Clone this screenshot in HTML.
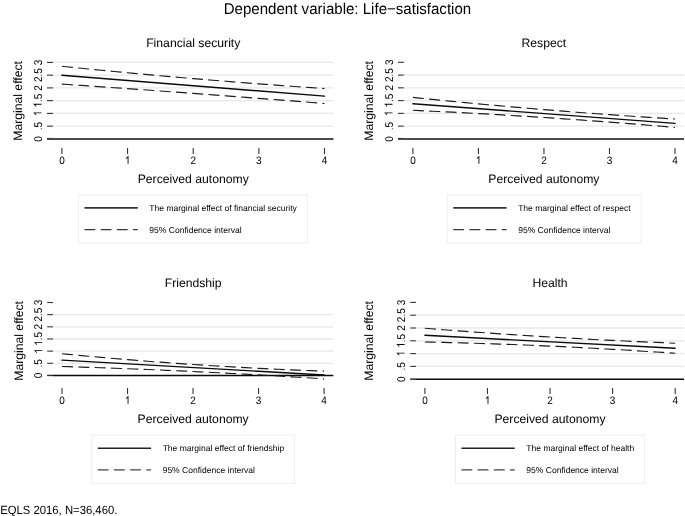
<!DOCTYPE html>
<html><head><meta charset="utf-8"><style>html,body{margin:0;padding:0;background:#fff;width:685px;height:516px;overflow:hidden;position:relative}</style></head>
<body>
<svg width="685" height="516" viewBox="0 0 685 516" style="position:absolute;left:0;top:0;will-change:transform;text-rendering:geometricPrecision" font-family='"Liberation Sans", sans-serif'>
<rect width="685" height="516" fill="#fff"/>
<text transform="translate(347.45,14) scale(0.966,1)" font-size="15.6" text-anchor="middle" fill="#000">Dependent variable: Life−satisfaction</text>
<text x="193.25" y="47" font-size="12.2" text-anchor="middle" fill="#000">Financial security</text>
<line x1="53" x2="333.5" y1="126.15" y2="126.15" stroke="#e8e8e8" stroke-width="1.3"/>
<line x1="53" x2="333.5" y1="113.40" y2="113.40" stroke="#e8e8e8" stroke-width="1.3"/>
<line x1="53" x2="333.5" y1="100.65" y2="100.65" stroke="#e8e8e8" stroke-width="1.3"/>
<line x1="53" x2="333.5" y1="87.90" y2="87.90" stroke="#e8e8e8" stroke-width="1.3"/>
<line x1="53" x2="333.5" y1="75.15" y2="75.15" stroke="#e8e8e8" stroke-width="1.3"/>
<line x1="53" x2="333.5" y1="62.40" y2="62.40" stroke="#e8e8e8" stroke-width="1.3"/>
<line x1="47" x2="53" y1="138.90" y2="138.90" stroke="#555" stroke-width="2.0"/>
<line x1="53" x2="333.5" y1="138.90" y2="138.90" stroke="#4c4c4c" stroke-width="2.0"/>
<line x1="47" x2="53" y1="138.90" y2="138.90" stroke="#333" stroke-width="1.1"/>
<g transform="translate(41.5,138.90) rotate(-90) scale(1,1.12)" fill="#000"><text x="-2.78" y="0" font-size="10">0</text></g>
<line x1="47" x2="53" y1="126.15" y2="126.15" stroke="#333" stroke-width="1.1"/>
<g transform="translate(41.5,126.15) rotate(-90) scale(1,1.12)" fill="#000"><text x="-4.17" y="0" font-size="10">.5</text></g>
<line x1="47" x2="53" y1="113.40" y2="113.40" stroke="#333" stroke-width="1.1"/>
<g transform="translate(41.5,113.40) rotate(-90) scale(1,1.12)" fill="#000"><path d="M373,0 L285,0 L285,560 Q200,485 108,454 L108,539 Q190,572 245,622 Q300,672 318,716 L373,716 Z" transform="translate(-2.78,0) scale(0.01000,-0.01000)"/></g>
<line x1="47" x2="53" y1="100.65" y2="100.65" stroke="#333" stroke-width="1.1"/>
<g transform="translate(41.5,100.65) rotate(-90) scale(1,1.12)" fill="#000"><path d="M373,0 L285,0 L285,560 Q200,485 108,454 L108,539 Q190,572 245,622 Q300,672 318,716 L373,716 Z" transform="translate(-6.95,0) scale(0.01000,-0.01000)"/><text x="-1.39" y="0" font-size="10">.5</text></g>
<line x1="47" x2="53" y1="87.90" y2="87.90" stroke="#333" stroke-width="1.1"/>
<g transform="translate(41.5,87.90) rotate(-90) scale(1,1.12)" fill="#000"><text x="-2.78" y="0" font-size="10">2</text></g>
<line x1="47" x2="53" y1="75.15" y2="75.15" stroke="#333" stroke-width="1.1"/>
<g transform="translate(41.5,75.15) rotate(-90) scale(1,1.12)" fill="#000"><text x="-6.95" y="0" font-size="10">2.5</text></g>
<line x1="47" x2="53" y1="62.40" y2="62.40" stroke="#333" stroke-width="1.1"/>
<g transform="translate(41.5,62.40) rotate(-90) scale(1,1.12)" fill="#000"><text x="-2.78" y="0" font-size="10">3</text></g>
<text transform="translate(22.0,100.9) rotate(-90)" font-size="12.2" text-anchor="middle" fill="#000">Marginal effect</text>
<line x1="61.90" x2="61.90" y1="148" y2="154" stroke="#333" stroke-width="1.1"/>
<g transform="translate(61.90,163.7) scale(1,1.08)" fill="#000"><text x="-2.78" y="0" font-size="10">0</text></g>
<line x1="127.55" x2="127.55" y1="148" y2="154" stroke="#333" stroke-width="1.1"/>
<g transform="translate(127.55,163.7) scale(1,1.08)" fill="#000"><path d="M373,0 L285,0 L285,560 Q200,485 108,454 L108,539 Q190,572 245,622 Q300,672 318,716 L373,716 Z" transform="translate(-2.78,0) scale(0.01000,-0.01000)"/></g>
<line x1="193.20" x2="193.20" y1="148" y2="154" stroke="#333" stroke-width="1.1"/>
<g transform="translate(193.20,163.7) scale(1,1.08)" fill="#000"><text x="-2.78" y="0" font-size="10">2</text></g>
<line x1="258.85" x2="258.85" y1="148" y2="154" stroke="#333" stroke-width="1.1"/>
<g transform="translate(258.85,163.7) scale(1,1.08)" fill="#000"><text x="-2.78" y="0" font-size="10">3</text></g>
<line x1="324.50" x2="324.50" y1="148" y2="154" stroke="#333" stroke-width="1.1"/>
<g transform="translate(324.50,163.7) scale(1,1.08)" fill="#000"><text x="-2.78" y="0" font-size="10">4</text></g>
<text x="193.25" y="183.2" font-size="12.2" text-anchor="middle" fill="#000">Perceived autonomy</text>
<line x1="61.90" x2="324.50" y1="75.3" y2="96.1" stroke="#0a0a0a" stroke-width="1.4" stroke-linecap="round"/>
<polyline points="61.90,66.30 68.47,66.97 75.03,67.64 81.59,68.30 88.16,68.95 94.72,69.60 101.29,70.24 107.85,70.88 114.42,71.51 120.99,72.13 127.55,72.75 134.12,73.36 140.68,73.97 147.25,74.57 153.81,75.16 160.38,75.75 166.94,76.33 173.50,76.91 180.07,77.48 186.63,78.04 193.20,78.60 199.77,79.15 206.33,79.70 212.90,80.24 219.46,80.77 226.03,81.30 232.59,81.82 239.16,82.34 245.72,82.85 252.29,83.35 258.85,83.85 265.42,84.34 271.98,84.83 278.55,85.31 285.11,85.78 291.68,86.25 298.24,86.71 304.81,87.17 311.37,87.62 317.94,88.06 324.50,88.50" fill="none" stroke="#1a1a1a" stroke-width="1.15" stroke-dasharray="11 5.33"/>
<polyline points="61.90,84.10 68.47,84.55 75.03,84.99 81.59,85.44 88.16,85.90 94.72,86.35 101.29,86.81 107.85,87.26 114.42,87.72 120.99,88.19 127.55,88.65 134.12,89.12 140.68,89.58 147.25,90.05 153.81,90.53 160.38,91.00 166.94,91.48 173.50,91.95 180.07,92.43 186.63,92.92 193.20,93.40 199.77,93.89 206.33,94.37 212.90,94.86 219.46,95.36 226.03,95.85 232.59,96.35 239.16,96.84 245.72,97.34 252.29,97.85 258.85,98.35 265.42,98.86 271.98,99.36 278.55,99.87 285.11,100.39 291.68,100.90 298.24,101.42 304.81,101.93 311.37,102.45 317.94,102.98 324.50,103.50" fill="none" stroke="#1a1a1a" stroke-width="1.15" stroke-dasharray="11 5.33"/>
<rect x="78.47" y="194.75" width="228.97" height="48.2" fill="#fff" stroke="#efefef" stroke-width="1"/>
<line x1="84.47" x2="137.77" y1="207.85" y2="207.85" stroke="#333" stroke-width="1.9"/>
<line x1="84.47" x2="137.77" y1="229.7" y2="229.7" stroke="#383838" stroke-width="1.3" stroke-dasharray="10.8 5.4"/>
<text x="149.37" y="211" font-size="8.53" fill="#000">The marginal effect of financial security</text>
<text x="149.37" y="232.6" font-size="8.53" fill="#000">95% Confidence interval</text>
<text x="543.90" y="47" font-size="12.2" text-anchor="middle" fill="#000">Respect</text>
<line x1="403.8" x2="684" y1="126.13" y2="126.13" stroke="#e8e8e8" stroke-width="1.3"/>
<line x1="403.8" x2="684" y1="113.37" y2="113.37" stroke="#e8e8e8" stroke-width="1.3"/>
<line x1="403.8" x2="684" y1="100.60" y2="100.60" stroke="#e8e8e8" stroke-width="1.3"/>
<line x1="403.8" x2="684" y1="87.83" y2="87.83" stroke="#e8e8e8" stroke-width="1.3"/>
<line x1="403.8" x2="684" y1="75.07" y2="75.07" stroke="#e8e8e8" stroke-width="1.3"/>
<line x1="398" x2="403.8" y1="138.90" y2="138.90" stroke="#555" stroke-width="2.0"/>
<line x1="403.8" x2="684" y1="138.90" y2="138.90" stroke="#4c4c4c" stroke-width="2.0"/>
<line x1="398" x2="403.8" y1="138.90" y2="138.90" stroke="#333" stroke-width="1.1"/>
<g transform="translate(392.5,138.90) rotate(-90) scale(1,1.12)" fill="#000"><text x="-2.78" y="0" font-size="10">0</text></g>
<line x1="398" x2="403.8" y1="126.13" y2="126.13" stroke="#333" stroke-width="1.1"/>
<g transform="translate(392.5,126.13) rotate(-90) scale(1,1.12)" fill="#000"><text x="-4.17" y="0" font-size="10">.5</text></g>
<line x1="398" x2="403.8" y1="113.37" y2="113.37" stroke="#333" stroke-width="1.1"/>
<g transform="translate(392.5,113.37) rotate(-90) scale(1,1.12)" fill="#000"><path d="M373,0 L285,0 L285,560 Q200,485 108,454 L108,539 Q190,572 245,622 Q300,672 318,716 L373,716 Z" transform="translate(-2.78,0) scale(0.01000,-0.01000)"/></g>
<line x1="398" x2="403.8" y1="100.60" y2="100.60" stroke="#333" stroke-width="1.1"/>
<g transform="translate(392.5,100.60) rotate(-90) scale(1,1.12)" fill="#000"><path d="M373,0 L285,0 L285,560 Q200,485 108,454 L108,539 Q190,572 245,622 Q300,672 318,716 L373,716 Z" transform="translate(-6.95,0) scale(0.01000,-0.01000)"/><text x="-1.39" y="0" font-size="10">.5</text></g>
<line x1="398" x2="403.8" y1="87.83" y2="87.83" stroke="#333" stroke-width="1.1"/>
<g transform="translate(392.5,87.83) rotate(-90) scale(1,1.12)" fill="#000"><text x="-2.78" y="0" font-size="10">2</text></g>
<line x1="398" x2="403.8" y1="75.07" y2="75.07" stroke="#333" stroke-width="1.1"/>
<g transform="translate(392.5,75.07) rotate(-90) scale(1,1.12)" fill="#000"><text x="-6.95" y="0" font-size="10">2.5</text></g>
<line x1="398" x2="403.8" y1="62.30" y2="62.30" stroke="#333" stroke-width="1.1"/>
<g transform="translate(392.5,62.30) rotate(-90) scale(1,1.12)" fill="#000"><text x="-2.78" y="0" font-size="10">3</text></g>
<text transform="translate(373.3,100.9) rotate(-90)" font-size="12.2" text-anchor="middle" fill="#000">Marginal effect</text>
<line x1="412.90" x2="412.90" y1="148" y2="154" stroke="#333" stroke-width="1.1"/>
<g transform="translate(412.90,163.7) scale(1,1.08)" fill="#000"><text x="-2.78" y="0" font-size="10">0</text></g>
<line x1="478.42" x2="478.42" y1="148" y2="154" stroke="#333" stroke-width="1.1"/>
<g transform="translate(478.42,163.7) scale(1,1.08)" fill="#000"><path d="M373,0 L285,0 L285,560 Q200,485 108,454 L108,539 Q190,572 245,622 Q300,672 318,716 L373,716 Z" transform="translate(-2.78,0) scale(0.01000,-0.01000)"/></g>
<line x1="543.95" x2="543.95" y1="148" y2="154" stroke="#333" stroke-width="1.1"/>
<g transform="translate(543.95,163.7) scale(1,1.08)" fill="#000"><text x="-2.78" y="0" font-size="10">2</text></g>
<line x1="609.48" x2="609.48" y1="148" y2="154" stroke="#333" stroke-width="1.1"/>
<g transform="translate(609.48,163.7) scale(1,1.08)" fill="#000"><text x="-2.78" y="0" font-size="10">3</text></g>
<line x1="675.00" x2="675.00" y1="148" y2="154" stroke="#333" stroke-width="1.1"/>
<g transform="translate(675.00,163.7) scale(1,1.08)" fill="#000"><text x="-2.78" y="0" font-size="10">4</text></g>
<text x="543.90" y="183.2" font-size="12.2" text-anchor="middle" fill="#000">Perceived autonomy</text>
<line x1="412.90" x2="675.00" y1="103.8" y2="123.4" stroke="#0a0a0a" stroke-width="1.4" stroke-linecap="round"/>
<polyline points="412.90,97.40 419.45,98.08 426.00,98.75 432.56,99.41 439.11,100.06 445.66,100.71 452.21,101.35 458.77,101.99 465.32,102.62 471.87,103.24 478.42,103.85 484.98,104.46 491.53,105.06 498.08,105.65 504.63,106.23 511.19,106.81 517.74,107.38 524.29,107.95 530.85,108.51 537.40,109.06 543.95,109.60 550.50,110.14 557.06,110.67 563.61,111.19 570.16,111.70 576.71,112.21 583.26,112.71 589.82,113.21 596.37,113.70 602.92,114.18 609.48,114.65 616.03,115.12 622.58,115.58 629.13,116.03 635.68,116.47 642.24,116.91 648.79,117.34 655.34,117.77 661.89,118.19 668.45,118.60 675.00,119.00" fill="none" stroke="#1a1a1a" stroke-width="1.15" stroke-dasharray="11 5.33"/>
<polyline points="412.90,110.30 419.45,110.60 426.00,110.90 432.56,111.21 439.11,111.52 445.66,111.85 452.21,112.18 458.77,112.51 465.32,112.86 471.87,113.21 478.42,113.56 484.98,113.93 491.53,114.30 498.08,114.67 504.63,115.06 511.19,115.45 517.74,115.84 524.29,116.25 530.85,116.66 537.40,117.08 543.95,117.50 550.50,117.93 557.06,118.37 563.61,118.81 570.16,119.26 576.71,119.72 583.26,120.19 589.82,120.66 596.37,121.14 602.92,121.62 609.48,122.11 616.03,122.61 622.58,123.12 629.13,123.63 635.68,124.15 642.24,124.67 648.79,125.20 655.34,125.74 661.89,126.29 668.45,126.84 675.00,127.40" fill="none" stroke="#1a1a1a" stroke-width="1.15" stroke-dasharray="11 5.33"/>
<rect x="447.26" y="194.75" width="193.89" height="48.2" fill="#fff" stroke="#efefef" stroke-width="1"/>
<line x1="453.26" x2="506.56" y1="207.85" y2="207.85" stroke="#333" stroke-width="1.9"/>
<line x1="453.26" x2="506.56" y1="229.7" y2="229.7" stroke="#383838" stroke-width="1.3" stroke-dasharray="10.8 5.4"/>
<text x="518.16" y="211" font-size="8.53" fill="#000">The marginal effect of respect</text>
<text x="518.16" y="232.6" font-size="8.53" fill="#000">95% Confidence interval</text>
<text x="193.15" y="287" font-size="12.2" text-anchor="middle" fill="#000">Friendship</text>
<line x1="53" x2="333.3" y1="363.29" y2="363.29" stroke="#e8e8e8" stroke-width="1.3"/>
<line x1="53" x2="333.3" y1="351.13" y2="351.13" stroke="#e8e8e8" stroke-width="1.3"/>
<line x1="53" x2="333.3" y1="338.98" y2="338.98" stroke="#e8e8e8" stroke-width="1.3"/>
<line x1="53" x2="333.3" y1="326.82" y2="326.82" stroke="#e8e8e8" stroke-width="1.3"/>
<line x1="53" x2="333.3" y1="314.66" y2="314.66" stroke="#e8e8e8" stroke-width="1.3"/>
<line x1="47.2" x2="53" y1="375.45" y2="375.45" stroke="#555" stroke-width="1.45"/>
<line x1="53" x2="333.3" y1="375.45" y2="375.45" stroke="#0a0a0a" stroke-width="1.45"/>
<line x1="47.2" x2="53" y1="375.45" y2="375.45" stroke="#333" stroke-width="1.1"/>
<g transform="translate(42.2,375.45) rotate(-90) scale(1,1.12)" fill="#000"><text x="-2.78" y="0" font-size="10">0</text></g>
<line x1="47.2" x2="53" y1="363.29" y2="363.29" stroke="#333" stroke-width="1.1"/>
<g transform="translate(42.2,363.29) rotate(-90) scale(1,1.12)" fill="#000"><text x="-4.17" y="0" font-size="10">.5</text></g>
<line x1="47.2" x2="53" y1="351.13" y2="351.13" stroke="#333" stroke-width="1.1"/>
<g transform="translate(42.2,351.13) rotate(-90) scale(1,1.12)" fill="#000"><path d="M373,0 L285,0 L285,560 Q200,485 108,454 L108,539 Q190,572 245,622 Q300,672 318,716 L373,716 Z" transform="translate(-2.78,0) scale(0.01000,-0.01000)"/></g>
<line x1="47.2" x2="53" y1="338.98" y2="338.98" stroke="#333" stroke-width="1.1"/>
<g transform="translate(42.2,338.98) rotate(-90) scale(1,1.12)" fill="#000"><path d="M373,0 L285,0 L285,560 Q200,485 108,454 L108,539 Q190,572 245,622 Q300,672 318,716 L373,716 Z" transform="translate(-6.95,0) scale(0.01000,-0.01000)"/><text x="-1.39" y="0" font-size="10">.5</text></g>
<line x1="47.2" x2="53" y1="326.82" y2="326.82" stroke="#333" stroke-width="1.1"/>
<g transform="translate(42.2,326.82) rotate(-90) scale(1,1.12)" fill="#000"><text x="-2.78" y="0" font-size="10">2</text></g>
<line x1="47.2" x2="53" y1="314.66" y2="314.66" stroke="#333" stroke-width="1.1"/>
<g transform="translate(42.2,314.66) rotate(-90) scale(1,1.12)" fill="#000"><text x="-6.95" y="0" font-size="10">2.5</text></g>
<line x1="47.2" x2="53" y1="302.50" y2="302.50" stroke="#333" stroke-width="1.1"/>
<g transform="translate(42.2,302.50) rotate(-90) scale(1,1.12)" fill="#000"><text x="-2.78" y="0" font-size="10">3</text></g>
<text transform="translate(22.6,340.9) rotate(-90)" font-size="12.2" text-anchor="middle" fill="#000">Marginal effect</text>
<line x1="62.00" x2="62.00" y1="388" y2="394" stroke="#333" stroke-width="1.1"/>
<g transform="translate(62.00,403.7) scale(1,1.08)" fill="#000"><text x="-2.78" y="0" font-size="10">0</text></g>
<line x1="127.53" x2="127.53" y1="388" y2="394" stroke="#333" stroke-width="1.1"/>
<g transform="translate(127.53,403.7) scale(1,1.08)" fill="#000"><path d="M373,0 L285,0 L285,560 Q200,485 108,454 L108,539 Q190,572 245,622 Q300,672 318,716 L373,716 Z" transform="translate(-2.78,0) scale(0.01000,-0.01000)"/></g>
<line x1="193.05" x2="193.05" y1="388" y2="394" stroke="#333" stroke-width="1.1"/>
<g transform="translate(193.05,403.7) scale(1,1.08)" fill="#000"><text x="-2.78" y="0" font-size="10">2</text></g>
<line x1="258.58" x2="258.58" y1="388" y2="394" stroke="#333" stroke-width="1.1"/>
<g transform="translate(258.58,403.7) scale(1,1.08)" fill="#000"><text x="-2.78" y="0" font-size="10">3</text></g>
<line x1="324.10" x2="324.10" y1="388" y2="394" stroke="#333" stroke-width="1.1"/>
<g transform="translate(324.10,403.7) scale(1,1.08)" fill="#000"><text x="-2.78" y="0" font-size="10">4</text></g>
<text x="193.15" y="423.2" font-size="12.2" text-anchor="middle" fill="#000">Perceived autonomy</text>
<line x1="62.00" x2="324.10" y1="360.1" y2="375.0" stroke="#0a0a0a" stroke-width="1.4" stroke-linecap="round"/>
<polyline points="62.00,353.70 68.55,354.34 75.11,354.97 81.66,355.59 88.21,356.20 94.76,356.79 101.31,357.38 107.87,357.96 114.42,358.52 120.97,359.08 127.53,359.62 134.08,360.16 140.63,360.68 147.18,361.20 153.74,361.70 160.29,362.19 166.84,362.68 173.39,363.15 179.94,363.61 186.50,364.06 193.05,364.50 199.60,364.93 206.16,365.35 212.71,365.76 219.26,366.16 225.81,366.54 232.37,366.92 238.92,367.29 245.47,367.64 252.02,367.99 258.58,368.33 265.13,368.65 271.68,368.96 278.23,369.27 284.79,369.56 291.34,369.84 297.89,370.12 304.44,370.38 311.00,370.63 317.55,370.87 324.10,371.10" fill="none" stroke="#1a1a1a" stroke-width="1.15" stroke-dasharray="11 5.33"/>
<polyline points="62.00,366.50 68.55,366.69 75.11,366.89 81.66,367.10 88.21,367.31 94.76,367.52 101.31,367.75 107.87,367.98 114.42,368.21 120.97,368.45 127.53,368.70 134.08,368.95 140.63,369.21 147.18,369.48 153.74,369.75 160.29,370.02 166.84,370.31 173.39,370.60 179.94,370.89 186.50,371.19 193.05,371.50 199.60,371.81 206.16,372.13 212.71,372.46 219.26,372.79 225.81,373.12 232.37,373.47 238.92,373.82 245.47,374.17 252.02,374.53 258.58,374.90 265.13,375.27 271.68,375.65 278.23,376.04 284.79,376.43 291.34,376.82 297.89,377.23 304.44,377.64 311.00,378.05 317.55,378.47 324.10,378.90" fill="none" stroke="#1a1a1a" stroke-width="1.15" stroke-dasharray="11 5.33"/>
<rect x="91.75" y="435.1" width="202.90" height="48.2" fill="#fff" stroke="#efefef" stroke-width="1"/>
<line x1="97.75" x2="151.05" y1="448.25" y2="448.25" stroke="#222" stroke-width="1.5"/>
<line x1="97.75" x2="151.05" y1="469.95" y2="469.95" stroke="#444" stroke-width="1.3" stroke-dasharray="10.8 5.4"/>
<text x="162.65" y="451.35" font-size="8.53" fill="#000">The marginal effect of friendship</text>
<text x="162.65" y="472.95" font-size="8.53" fill="#000">95% Confidence interval</text>
<text x="550.00" y="287" font-size="12.2" text-anchor="middle" fill="#000">Health</text>
<line x1="416" x2="684" y1="366.40" y2="366.40" stroke="#e8e8e8" stroke-width="1.3"/>
<line x1="416" x2="684" y1="353.60" y2="353.60" stroke="#e8e8e8" stroke-width="1.3"/>
<line x1="416" x2="684" y1="340.80" y2="340.80" stroke="#e8e8e8" stroke-width="1.3"/>
<line x1="416" x2="684" y1="328.00" y2="328.00" stroke="#e8e8e8" stroke-width="1.3"/>
<line x1="416" x2="684" y1="315.20" y2="315.20" stroke="#e8e8e8" stroke-width="1.3"/>
<line x1="410.2" x2="416" y1="379.20" y2="379.20" stroke="#555" stroke-width="1.45"/>
<line x1="416" x2="684" y1="379.20" y2="379.20" stroke="#0a0a0a" stroke-width="1.45"/>
<line x1="410.2" x2="416" y1="379.20" y2="379.20" stroke="#333" stroke-width="1.1"/>
<g transform="translate(404.6,379.20) rotate(-90) scale(1,1.12)" fill="#000"><text x="-2.78" y="0" font-size="10">0</text></g>
<line x1="410.2" x2="416" y1="366.40" y2="366.40" stroke="#333" stroke-width="1.1"/>
<g transform="translate(404.6,366.40) rotate(-90) scale(1,1.12)" fill="#000"><text x="-4.17" y="0" font-size="10">.5</text></g>
<line x1="410.2" x2="416" y1="353.60" y2="353.60" stroke="#333" stroke-width="1.1"/>
<g transform="translate(404.6,353.60) rotate(-90) scale(1,1.12)" fill="#000"><path d="M373,0 L285,0 L285,560 Q200,485 108,454 L108,539 Q190,572 245,622 Q300,672 318,716 L373,716 Z" transform="translate(-2.78,0) scale(0.01000,-0.01000)"/></g>
<line x1="410.2" x2="416" y1="340.80" y2="340.80" stroke="#333" stroke-width="1.1"/>
<g transform="translate(404.6,340.80) rotate(-90) scale(1,1.12)" fill="#000"><path d="M373,0 L285,0 L285,560 Q200,485 108,454 L108,539 Q190,572 245,622 Q300,672 318,716 L373,716 Z" transform="translate(-6.95,0) scale(0.01000,-0.01000)"/><text x="-1.39" y="0" font-size="10">.5</text></g>
<line x1="410.2" x2="416" y1="328.00" y2="328.00" stroke="#333" stroke-width="1.1"/>
<g transform="translate(404.6,328.00) rotate(-90) scale(1,1.12)" fill="#000"><text x="-2.78" y="0" font-size="10">2</text></g>
<line x1="410.2" x2="416" y1="315.20" y2="315.20" stroke="#333" stroke-width="1.1"/>
<g transform="translate(404.6,315.20) rotate(-90) scale(1,1.12)" fill="#000"><text x="-6.95" y="0" font-size="10">2.5</text></g>
<line x1="410.2" x2="416" y1="302.40" y2="302.40" stroke="#333" stroke-width="1.1"/>
<g transform="translate(404.6,302.40) rotate(-90) scale(1,1.12)" fill="#000"><text x="-2.78" y="0" font-size="10">3</text></g>
<text transform="translate(373.1,340.9) rotate(-90)" font-size="12.2" text-anchor="middle" fill="#000">Marginal effect</text>
<line x1="424.90" x2="424.90" y1="388" y2="394" stroke="#333" stroke-width="1.1"/>
<g transform="translate(424.90,403.7) scale(1,1.08)" fill="#000"><text x="-2.78" y="0" font-size="10">0</text></g>
<line x1="487.48" x2="487.48" y1="388" y2="394" stroke="#333" stroke-width="1.1"/>
<g transform="translate(487.48,403.7) scale(1,1.08)" fill="#000"><path d="M373,0 L285,0 L285,560 Q200,485 108,454 L108,539 Q190,572 245,622 Q300,672 318,716 L373,716 Z" transform="translate(-2.78,0) scale(0.01000,-0.01000)"/></g>
<line x1="550.05" x2="550.05" y1="388" y2="394" stroke="#333" stroke-width="1.1"/>
<g transform="translate(550.05,403.7) scale(1,1.08)" fill="#000"><text x="-2.78" y="0" font-size="10">2</text></g>
<line x1="612.62" x2="612.62" y1="388" y2="394" stroke="#333" stroke-width="1.1"/>
<g transform="translate(612.62,403.7) scale(1,1.08)" fill="#000"><text x="-2.78" y="0" font-size="10">3</text></g>
<line x1="675.20" x2="675.20" y1="388" y2="394" stroke="#333" stroke-width="1.1"/>
<g transform="translate(675.20,403.7) scale(1,1.08)" fill="#000"><text x="-2.78" y="0" font-size="10">4</text></g>
<text x="550.00" y="423.2" font-size="12.2" text-anchor="middle" fill="#000">Perceived autonomy</text>
<line x1="424.90" x2="675.20" y1="335.3" y2="348.3" stroke="#0a0a0a" stroke-width="1.4" stroke-linecap="round"/>
<polyline points="424.90,328.30 431.16,328.79 437.41,329.28 443.67,329.76 449.93,330.24 456.19,330.71 462.44,331.17 468.70,331.63 474.96,332.08 481.22,332.52 487.48,332.96 493.73,333.39 499.99,333.82 506.25,334.24 512.50,334.65 518.76,335.06 525.02,335.46 531.28,335.85 537.53,336.24 543.79,336.62 550.05,337.00 556.31,337.37 562.57,337.73 568.82,338.09 575.08,338.44 581.34,338.78 587.60,339.12 593.85,339.45 600.11,339.78 606.37,340.10 612.62,340.41 618.88,340.72 625.14,341.02 631.40,341.31 637.65,341.60 643.91,341.88 650.17,342.16 656.43,342.43 662.69,342.69 668.94,342.95 675.20,343.20" fill="none" stroke="#1a1a1a" stroke-width="1.15" stroke-dasharray="11 5.33"/>
<polyline points="424.90,342.00 431.16,342.13 437.41,342.27 443.67,342.42 449.93,342.57 456.19,342.73 462.44,342.90 468.70,343.08 474.96,343.27 481.22,343.46 487.48,343.66 493.73,343.87 499.99,344.09 506.25,344.31 512.50,344.54 518.76,344.78 525.02,345.03 531.28,345.29 537.53,345.55 543.79,345.82 550.05,346.10 556.31,346.39 562.57,346.68 568.82,346.98 575.08,347.29 581.34,347.61 587.60,347.93 593.85,348.27 600.11,348.61 606.37,348.96 612.62,349.31 618.88,349.68 625.14,350.05 631.40,350.43 637.65,350.81 643.91,351.21 650.17,351.61 656.43,352.02 662.69,352.44 668.94,352.87 675.20,353.30" fill="none" stroke="#1a1a1a" stroke-width="1.15" stroke-dasharray="11 5.33"/>
<rect x="455.47" y="435.1" width="189.15" height="48.2" fill="#fff" stroke="#efefef" stroke-width="1"/>
<line x1="461.47" x2="514.77" y1="448.25" y2="448.25" stroke="#222" stroke-width="1.5"/>
<line x1="461.47" x2="514.77" y1="469.95" y2="469.95" stroke="#444" stroke-width="1.3" stroke-dasharray="10.8 5.4"/>
<text x="526.37" y="451.35" font-size="8.53" fill="#000">The marginal effect of health</text>
<text x="526.37" y="472.95" font-size="8.53" fill="#000">95% Confidence interval</text>
<text transform="translate(0.2,513.6) scale(1,1.06)" font-size="11.3" fill="#000">EQLS 2016, N=36,460.</text>
</svg>
</body></html>
